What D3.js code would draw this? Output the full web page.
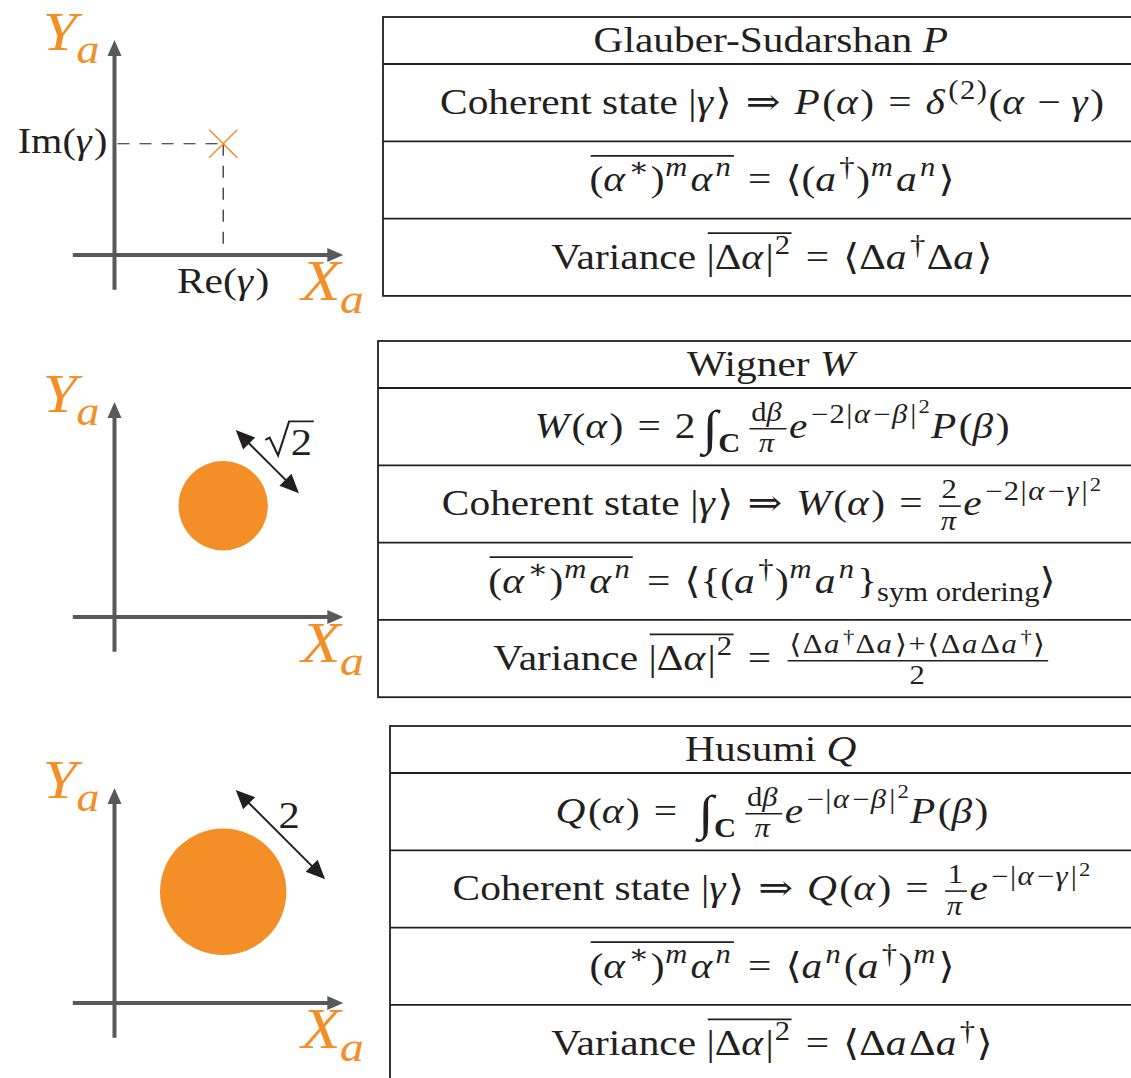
<!DOCTYPE html>
<html>
<head>
<meta charset="utf-8">
<script src="https://cdn.jsdelivr.net/npm/d3@7"></script>
<style>
  body { margin: 0; background: #fff; }
  svg { display: block; }
</style>
</head>
<body>
<svg id="chart"></svg>
<script>
// ---- data (mini TeX-ish markup: \rm{} upright, \bf{} bold, ^{} _{} scripts,
//      \frac{}{}, \ov{} overline, \int, \sqrt{}, \lb \rb braces) ----
const distributions = ["P", "W", "Q"];

const rowsP = [
  "\\rm{Glauber-Sudarshan }P",
  "\\rm{Coherent state }|γ⟩⇒P(α)=δ^{(2)}(α−γ)",
  "\\ov{(α^{∗})^{m}α^{n}}=⟨(a^{†})^{m}a^{n}⟩",
  "\\rm{Variance }\\ov{|Δα|^{2}}=⟨Δa^{†}Δa⟩"
];
const rowsW = [
  "\\rm{Wigner }W",
  "W(α)=2\\int_{\\bf{C}}\\frac{\\rm{d}β}{π}e^{−2|α−β|^{2}}P(β)",
  "\\rm{Coherent state }|γ⟩⇒W(α)=\\frac{2}{π}e^{−2|α−γ|^{2}}",
  "\\ov{(α^{∗})^{m}α^{n}}=⟨\\lb(a^{†})^{m}a^{n}\\rb_{\\rm{sym ordering}}⟩",
  "\\rm{Variance }\\ov{|Δα|^{2}}=\\frac{⟨Δa^{†}Δa⟩+⟨ΔaΔa^{†}⟩}{2}"
];
const rowsQ = [
  "\\rm{Husumi }Q",
  "Q(α)=\\int_{\\bf{C}}\\frac{\\rm{d}β}{π}e^{−|α−β|^{2}}P(β)",
  "\\rm{Coherent state }|γ⟩⇒Q(α)=\\frac{1}{π}e^{−|α−γ|^{2}}",
  "\\ov{(α^{∗})^{m}α^{n}}=⟨a^{n}(a^{†})^{m}⟩",
  "\\rm{Variance }\\ov{|Δα|^{2}}=⟨ΔaΔa^{†}⟩"
];

const gamma = [1.72, 1.76];           // Re(γ), Im(γ) in phase-space units
const spotDiameter = [0, 1.414, 2];   // P: point, W: √2, Q: 2
const spotLabel = ["", "\\sqrt{2}", "2"];
const gammaLabels = ["\\rm{Re}(γ)", "\\rm{Im}(γ)"];
const axisLabels = ["X_{a}", "Y_{a}"];

// ---- style ----
const W = 1131, H = 1078;
const FONT = "'Liberation Serif', 'DejaVu Serif', serif";
const BASE = 36, SX = 1.15, SCRIPT = 0.74;
const INK = "#231f20", GREY = "#58595b", ORANGE = "#f48e26";

const svg = d3.select("#chart").attr("width", W).attr("height", H)
  .style("font-family", FONT).attr("fill", INK);

// ---- tiny typesetter ----
function parse(s) {
  let i = 0;
  function arg() {
    if (s[i] === "{") { i++; const g = seq(); i++; return g; }
    return [{ k: "ch", c: s[i++] }];
  }
  function seq() {
    const out = [];
    while (i < s.length && s[i] !== "}") {
      const c = s[i];
      if (c === "\\") {
        const cmd = /^\\([a-z]+)/.exec(s.slice(i))[1];
        i += cmd.length + 1;
        if (cmd === "frac") out.push({ k: "frac", num: arg(), den: arg() });
        else if (cmd === "lb") out.push({ k: "ch", c: "{" });
        else if (cmd === "rb") out.push({ k: "ch", c: "}" });
        else if (cmd === "int") out.push({ k: "int" });
        else out.push({ k: cmd, body: arg() });
      } else if (c === "^" || c === "_") {
        i++;
        out.push({ k: c === "^" ? "sup" : "sub", body: arg() });
      } else { out.push({ k: "ch", c }); i++; }
    }
    return out;
  }
  return seq();
}

const REL = "=⇒", BIN = "+−";

function typeset(g, nodes, x, y, size, lv, mode) {
  let run = "", runIt = false, prevIt = false, prevK = null;
  const text = (str, it) => {
    const t = g.append("text").attr("x", x).attr("y", y)
      .attr("font-size", size)
      .attr("font-style", it ? "italic" : "normal")
      .attr("font-weight", mode === "bf" ? "bold" : "normal")
      .style("white-space", "pre").text(str);
    return t.node().getComputedTextLength();
  };
  const flush = () => {
    if (!run) return;
    if (runIt) {
      // math italic: glyph by glyph, a little wider like CM math italic
      for (const c of run) x += text(c, true) + (lv === 0 ? 0.06 : 0.1) * size;
    } else if (lv > 0 && mode === "math") {
      // script symbols: CM script sizes are set looser
      for (const c of run) x += text(c, false) + 0.05 * size;
    } else {
      x += text(run, false);
    }
    prevIt = runIt; run = "";
  };
  nodes.forEach(n => {
    if (n.k === "ch") {
      const c = n.c;
      if (mode === "math" && lv === 0 && (REL + BIN).includes(c)) {
        flush();
        const sp = (REL.includes(c) ? 0.34 : 0.26) * size;
        x += sp; run = c; runIt = false; flush(); x += sp;
        prevK = "ch";
        return;
      }
      const it = mode === "math" && /[A-Za-zα-ω]/.test(c);
      if (run && it !== runIt) flush();
      runIt = it; run += c; prevK = "ch";
      return;
    }
    flush();
    const s2 = size * SCRIPT;
    if (n.k === "sup") {
      x = typeset(g, n.body, x + 0.02 * size,
        y - (lv === 0 ? 0.42 : 0.36) * size, s2, lv + 1, mode === "rm" ? "rm" : "math");
    } else if (n.k === "sub") {
      const afterInt = prevK === "int";
      x = typeset(g, n.body, x + (afterInt ? 0.02 : prevIt ? -0.07 : 0) * size,
        y + (afterInt ? 0.38 : 0.24) * size, s2, lv + 1, "math");
      if (afterInt) x += 0.16 * size;
    } else if (n.k === "frac") {
      const gn = g.append("g"), gd = g.append("g");
      const wn = typeset(gn, n.num, 0, 0, s2, lv + 1, "math");
      const wd = typeset(gd, n.den, 0, 0, s2, lv + 1, "math");
      const w = Math.max(wn, wd) + 0.2 * size;
      gn.attr("transform", `translate(${x + (w - wn) / 2},${y - 0.48 * size})`);
      gd.attr("transform", `translate(${x + (w - wd) / 2},${y + 0.39 * size})`);
      g.append("line").attr("x1", x + 0.06 * size).attr("x2", x + w - 0.06 * size)
        .attr("y1", y - 0.26 * size).attr("y2", y - 0.26 * size)
        .attr("stroke", INK).attr("stroke-width", 0.045 * size);
      x += w;
    } else if (n.k === "ov") {
      const x0 = x;
      x = typeset(g, n.body, x, y, size, lv, mode);
      g.append("line").attr("x1", x0 + 0.03 * size).attr("x2", x)
        .attr("y1", y - 0.99 * size).attr("y2", y - 0.99 * size)
        .attr("stroke", INK).attr("stroke-width", 0.045 * size);
    } else if (n.k === "int") {
      if (prevK === "ch" && !prevIt) x += 0.16 * size;
      const t = g.append("text").attr("x", x).attr("y", y + 0.16 * size)
        .attr("font-size", size * 1.35).text("∫");
      x += t.node().getComputedTextLength();
    } else if (n.k === "rm" || n.k === "bf") {
      x = typeset(g, n.body, x, y, size, lv, n.k);
    } else if (n.k === "sqrt") {
      const x0 = x, bx = x0 + 0.6 * size;
      const xe = typeset(g, n.body, bx, y, size, lv, mode) + 0.04 * size;
      g.append("path")
        .attr("d", `M${x0},${y - 0.4 * size}L${x0 + 0.1 * size},${y - 0.46 * size}` +
          `L${x0 + 0.3 * size},${y + 0.02 * size}L${x0 + 0.56 * size},${y - 0.9 * size}H${xe}`)
        .attr("fill", "none").attr("stroke", INK).attr("stroke-width", 0.05 * size);
    }
    prevK = n.k;
    prevIt = false;
  });
  flush();
  return x;
}

function place(parent, src, x, y, size, anchor, fill) {
  const g = parent.append("g").attr("fill", fill || INK);
  const inner = g.append("g");
  const w = typeset(inner, parse(src), 0, 0, size, 0, "math");
  const off = anchor === "middle" ? -w / 2 : anchor === "end" ? -w : 0;
  inner.attr("transform", `translate(${x},${y}) scale(${SX},1) translate(${off},0)`);
  return g;
}

function head(g, tx, ty, ang, len, hw, color) {
  const c = Math.cos(ang), s = Math.sin(ang);
  const bx = tx - c * len, by = ty - s * len;
  g.append("path")
    .attr("d", `M${tx},${ty}L${bx - s * hw},${by + c * hw}L${bx + s * hw},${by - c * hw}Z`)
    .attr("fill", color);
}

function draw() {
  // ---- tables ----
  const CX = 772, HEAD = 47, ROW = 77.3;
  const tables = [
    { rows: rowsP, left: 383, top: 17 },
    { rows: rowsW, left: 378, top: 341 },
    { rows: rowsQ, left: 390, top: 726 }
  ];
  tables.forEach(t => {
    const n = t.rows.length - 1;
    const y = d3.scaleBand().domain(d3.range(n))
      .range([t.top + HEAD, t.top + HEAD + n * ROW]);
    const right = 2 * CX - t.left;
    const g = svg.append("g");
    g.append("rect").attr("x", t.left).attr("y", t.top)
      .attr("width", right - t.left).attr("height", HEAD + n * ROW)
      .attr("fill", "none").attr("stroke", INK).attr("stroke-width", 1.8);
    g.selectAll("line").data(d3.range(n)).join("line")
      .attr("x1", t.left).attr("x2", right)
      .attr("y1", d => y(d)).attr("y2", d => y(d))
      .attr("stroke", INK).attr("stroke-width", 1.8);
    place(g, t.rows[0], CX, t.top + HEAD / 2 + 0.32 * BASE, BASE, "middle");
    t.rows.slice(1).forEach((r, i) =>
      place(g, r, CX, y(i) + y.bandwidth() / 2 + 0.32 * BASE, BASE, "middle"));
  });

  // ---- phase-space panels ----
  const U = 63.2, OX = 114.5, panelOY = [255, 617, 1003];
  const xMin = -0.66, xMax = 3.62, yMin = -0.55, yMax = 3.4;
  distributions.forEach((name, pi) => {
    const x = d3.scaleLinear().domain([0, 1]).range([OX, OX + U]);
    const y = d3.scaleLinear().domain([0, 1]).range([panelOY[pi], panelOY[pi] - U]);
    const g = svg.append("g");

    g.append("line").attr("x1", x(xMin)).attr("x2", x(xMax) - 10)
      .attr("y1", y(0)).attr("y2", y(0)).attr("stroke", GREY).attr("stroke-width", 4);
    head(g, x(xMax), y(0), 0, 16, 7, GREY);
    g.append("line").attr("x1", x(0)).attr("x2", x(0))
      .attr("y1", y(yMin)).attr("y2", y(yMax) + 10).attr("stroke", GREY).attr("stroke-width", 4);
    head(g, x(0), y(yMax), -Math.PI / 2, 16, 7, GREY);

    place(g, axisLabels[0], x(xMax) - 42, y(0) + 45, 56, "start", ORANGE);
    place(g, axisLabels[1], x(0) - 72, y(yMax) + 10, 54, "start", ORANGE);

    const cx = x(gamma[0]), cy = y(gamma[1]);
    if (spotDiameter[pi] === 0) {
      g.append("path")
        .attr("d", `M${x(0) + 3},${cy}H${cx}M${cx},${cy}V${y(0) - 2}`)
        .attr("stroke", INK).attr("stroke-width", 1.2).attr("stroke-dasharray", "12,10")
        .attr("fill", "none");
      const k = 14;
      g.append("path")
        .attr("d", `M${cx - k},${cy - k}L${cx + k},${cy + k}M${cx - k},${cy + k}L${cx + k},${cy - k}`)
        .attr("stroke", ORANGE).attr("stroke-width", 1.5);
      place(g, gammaLabels[0], cx, y(0) + 38, 36, "middle");
      place(g, gammaLabels[1], x(0) - 7, cy + 9, 35, "end");
    } else {
      const r = (x(spotDiameter[pi]) - x(0)) / 2;
      g.append("circle").attr("cx", cx).attr("cy", cy).attr("r", r).attr("fill", ORANGE);
      const d = r + 0.28 * U;
      const ax = cx + d / Math.SQRT2, ay = cy - d / Math.SQRT2;
      const half = r / Math.SQRT2;
      const ang = Math.PI / 4, hl = 19;
      const inset = (hl - 4) / Math.SQRT2;
      g.append("line")
        .attr("x1", ax - half + inset).attr("y1", ay - half + inset)
        .attr("x2", ax + half - inset).attr("y2", ay + half - inset)
        .attr("stroke", INK).attr("stroke-width", 2);
      head(g, ax + half, ay + half, ang, hl, 8.5, INK);
      head(g, ax - half, ay - half, ang + Math.PI, hl, 8.5, INK);
      place(g, spotLabel[pi], ax - 2, ay - 7, 37, "start");
    }
  });
}

document.fonts.ready.then(draw);
</script>
</body>
</html>
